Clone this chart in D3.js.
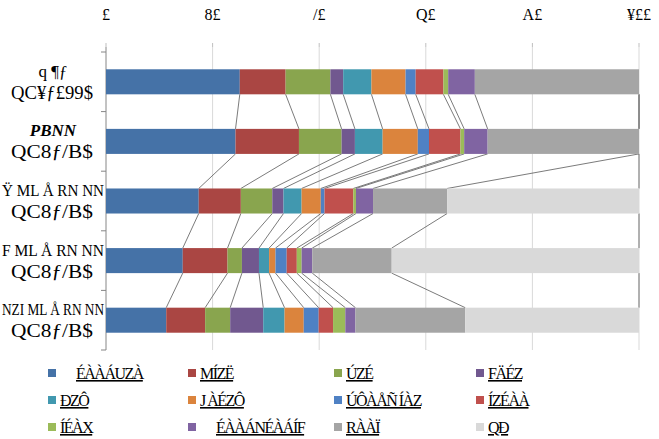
<!DOCTYPE html>
<html>
<head>
<meta charset="utf-8">
<script src="https://cdn.jsdelivr.net/npm/d3@7"></script>
<style>
  body { margin: 0; background: #fff; }
  text { font-family: "Liberation Serif", "DejaVu Serif", serif; fill: #000; }
</style>
</head>
<body>
<div id="chart"></div>
<script>
// category labels (two lines each, as printed)
const categories = ["c1", "c2", "c3", "c4", "c5"]
const catLine1 = ["q ¶ƒ", "PBNN", "Ÿ ML Å RN NN", "F ML Å RN NN", "NZI ML Å RN NN"]
const catLine2 = ["QC¥ƒ£99$", "QC8ƒ/B$", "QC8ƒ/B$", "QC8ƒ/B$", "QC8ƒ/B$"]

const seriesNames = ["ÉÀÀÁUZÀ", "MÍZË", "ÚZÉ", "FÄÉZ", "ÐZÔ", "J ÀÉZÔ",
    "ÚÔÀÅÑ ÍÀZ", "ÍZÉÀÀ", "ÍÉÀX", "ÉÀÀÁNÉÀÁÍF", "RÀÀÏ", "QÐ"]
const seriesColors = ["#4572A7", "#AA4643", "#89A54E", "#71588F", "#4198AF", "#DB843D",
    "#4F81C4", "#C0504D", "#9BBB59", "#8064A2", "#A5A5A5", "#D9D9D9"]

// percent shares, one array per series, in category order
const s_blue    = [25.1, 24.3, 17.4, 14.4, 11.3]
const s_dred    = [8.6, 11.9, 7.9, 8.4, 7.3]
const s_green   = [8.4, 8.0, 5.9, 2.7, 4.7]
const s_purple  = [2.4, 2.5, 2.1, 3.2, 6.2]
const s_teal    = [5.3, 5.2, 3.4, 1.9, 4.0]
const s_orange  = [6.4, 6.6, 3.6, 1.2, 3.6]
const s_blue2   = [1.9, 2.1, 0.7, 2.1, 2.8]
const s_red     = [5.2, 5.9, 5.4, 1.9, 2.7]
const s_lgreen  = [0.9, 0.7, 0.5, 0.9, 2.3]
const s_purple2 = [5.0, 4.4, 3.2, 2.0, 1.9]
const s_gray    = [30.8, 28.4, 13.9, 14.9, 20.6]
const s_lgray   = [0, 0, 36.0, 46.4, 32.6]

const xTicks = [0, 20, 40, 60, 80, 100]
const xTickLabels = ["£", "8£", "/£", "Q£", "A£", "¥££"]

const allSeries = [s_blue, s_dred, s_green, s_purple, s_teal, s_orange,
    s_blue2, s_red, s_lgreen, s_purple2, s_gray, s_lgray]

const width = 659, height = 439

const svg = d3.select("#chart").append("svg")
    .attr("width", width).attr("height", height)

const x = d3.scaleLinear().domain([0, 100]).range([106, 639])
const y = d3.scaleBand().domain(categories).range([52, 350]).paddingInner(0.58).paddingOuter(0.29)

// table for the stack
const table = categories.map((c, i) => {
    const row = { cat: c }
    seriesNames.forEach((n, j) => row[n] = allSeries[j][i])
    return row
})
const stacked = d3.stack().keys(seriesNames)(table)

// grid
svg.append("g").selectAll("line").data(xTicks.slice(1)).join("line")
    .attr("x1", d => x(d)).attr("x2", d => x(d))
    .attr("y1", 47).attr("y2", 350)
    .attr("stroke", "#D9D9D9").attr("stroke-width", 1)

// top tick marks + labels
svg.append("g").selectAll("line").data(xTicks).join("line")
    .attr("x1", d => x(d)).attr("x2", d => x(d))
    .attr("y1", 43).attr("y2", 47)
    .attr("stroke", "#BFBFBF")
svg.append("g").selectAll("text").data(xTicks).join("text")
    .attr("x", d => x(d)).attr("y", 20)
    .attr("text-anchor", "middle")
    .style("font-size", "16px")
    .text((d, i) => xTickLabels[i])

// left axis
const ax = svg.append("g")
ax.append("line").attr("x1", 106).attr("x2", 106).attr("y1", 47).attr("y2", 350)
    .attr("stroke", "#868686")
const bounds = d3.range(categories.length + 1).map(i => 52 + i * y.step())
ax.selectAll("line.t").data(bounds).join("line").attr("class", "t")
    .attr("x1", 101).attr("x2", 106).attr("y1", d => d).attr("y2", d => d)
    .attr("stroke", "#868686")

// series lines between adjacent bars
const lines = svg.append("g")
stacked.forEach(s => {
    for (let i = 0; i < categories.length - 1; i++) {
        lines.append("line")
            .attr("x1", x(s[i][1])).attr("y1", y(categories[i]) + y.bandwidth())
            .attr("x2", x(s[i + 1][1])).attr("y2", y(categories[i + 1]))
            .attr("stroke", "#595959").attr("stroke-width", 0.8)
    }
})

// bars
svg.append("g").selectAll("g").data(stacked).join("g")
    .attr("fill", (d, i) => seriesColors[i])
    .selectAll("rect").data(d => d).join("rect")
    .attr("x", d => x(d[0]))
    .attr("width", d => x(d[1]) - x(d[0]))
    .attr("y", d => y(d.data.cat))
    .attr("height", y.bandwidth())

// category labels
const cl = svg.append("g")
categories.forEach((c, i) => {
    const cy = y(c) + y.bandwidth() / 2
    const t1 = cl.append("text").attr("x", 53).attr("y", cy - 5)
        .attr("text-anchor", "middle")
        .style("font-size", "17px").style("font-weight", i == 1 ? "bold" : "normal")
        .style("font-style", i == 1 ? "italic" : "normal")
        .text(catLine1[i])
    if (i >= 2) t1.attr("textLength", 102).attr("lengthAdjust", "spacingAndGlyphs")
    cl.append("text").attr("x", 52).attr("y", cy + 17)
        .attr("text-anchor", "middle")
        .style("font-size", "19px")
        .attr("textLength", 82).attr("lengthAdjust", "spacingAndGlyphs")
        .text(catLine2[i])
})

// legend, 4 columns x 3 rows
const legX = [48, 188, 334, 476]
const legY = [373, 400, 427]
const leg = svg.append("g").selectAll("g").data(seriesNames).join("g")
    .attr("transform", (d, i) => `translate(${legX[i % 4]},${legY[Math.floor(i / 4)]})`)
leg.append("rect").attr("x", 0).attr("y", -4).attr("width", 8).attr("height", 8)
    .attr("fill", (d, i) => seriesColors[i])
leg.append("text").attr("x", (d, i) => i == 0 || i == 9 ? 28 : 12).attr("y", 6)
    .style("font-size", "16px").style("letter-spacing", "-1.5px")
    .style("text-decoration", "underline")
    .text(d => d)
</script>
</body>
</html>
